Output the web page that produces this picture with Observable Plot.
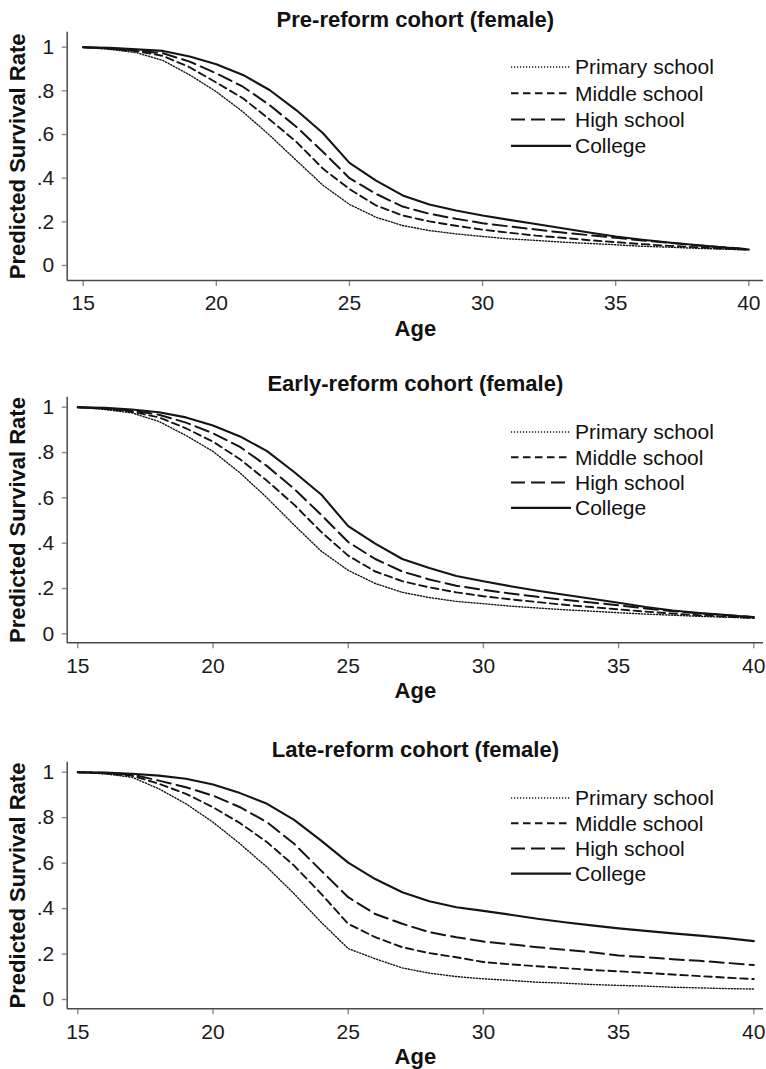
<!DOCTYPE html>
<html><head><meta charset="utf-8">
<script src="https://cdn.jsdelivr.net/npm/d3@7"></script>
<script src="https://cdn.jsdelivr.net/npm/@observablehq/plot@0.6"></script>
<style>
body{margin:0;background:#fff;}
#wrap{position:relative;width:766px;height:1069px;background:#fff;font-family:"Liberation Sans",Arial,sans-serif;}
.panel{position:absolute;left:0;}
</style></head><body><div id="wrap"></div>
<script>
// ---------- data ----------
const ages = [15,16,17,18,19,20,21,22,23,24,25,26,27,28,29,30,31,32,33,34,35,36,37,38,39,40];
const seriesNames = ["Primary school","Middle school","High school","College"];
const xTicks = [15,20,25,30,35,40];
const yTicks = [0,0.2,0.4,0.6,0.8,1];
const yTickLabels = ["0",".2",".4",".6",".8","1"];
const titles = ["Pre-reform cohort (female)","Early-reform cohort (female)","Late-reform cohort (female)"];
const yLabel = "Predicted Survival Rate";
const xLabel = "Age";

// Pre-reform cohort
const preCollege = [1,.997,.99,.983,.957,.922,.873,.804,.712,.607,.47,.389,.321,.279,.252,.229,.209,.19,.171,.151,.133,.118,.105,.094,.083,.073];
const preHigh    = [1,.995,.985,.972,.934,.88,.819,.735,.636,.521,.40,.328,.27,.237,.214,.194,.179,.165,.151,.139,.127,.115,.104,.093,.084,.075];
const preMiddle  = [1,.993,.982,.96,.908,.838,.766,.669,.567,.444,.35,.275,.229,.202,.182,.164,.15,.137,.127,.116,.107,.098,.09,.084,.078,.072];
const prePrimary = [1,.99,.975,.939,.873,.796,.704,.597,.482,.368,.28,.221,.183,.16,.145,.133,.122,.115,.107,.101,.095,.088,.084,.079,.075,.072];
// Early-reform cohort
const earlyCollege = [1,.997,.99,.978,.955,.919,.871,.806,.714,.615,.475,.398,.33,.29,.255,.232,.21,.19,.172,.155,.137,.118,.103,.092,.083,.073];
const earlyHigh    = [1,.995,.985,.967,.932,.885,.825,.74,.64,.525,.405,.33,.275,.24,.212,.194,.178,.163,.15,.138,.126,.112,.1,.09,.082,.074];
const earlyMiddle  = [1,.993,.98,.955,.907,.848,.77,.675,.57,.45,.345,.275,.232,.205,.183,.166,.152,.14,.128,.118,.108,.098,.089,.082,.076,.07];
const earlyPrimary = [1,.99,.975,.937,.875,.805,.71,.6,.48,.365,.28,.222,.183,.16,.143,.133,.122,.114,.106,.1,.093,.087,.082,.077,.073,.069];
// Late-reform cohort
const lateCollege = [1,.998,.993,.985,.971,.946,.908,.861,.79,.699,.602,.53,.472,.432,.406,.39,.373,.355,.34,.326,.313,.302,.291,.281,.27,.257];
const lateHigh    = [1,.997,.99,.963,.934,.897,.846,.78,.685,.567,.45,.376,.333,.296,.274,.255,.243,.23,.219,.208,.194,.186,.177,.17,.161,.152];
const lateMiddle  = [1,.995,.985,.949,.905,.846,.776,.692,.589,.465,.333,.274,.23,.204,.186,.165,.155,.146,.138,.13,.124,.117,.11,.103,.096,.09];
const latePrimary = [1,.993,.978,.927,.861,.78,.685,.582,.465,.34,.224,.179,.139,.116,.101,.091,.084,.076,.072,.066,.062,.059,.054,.051,.048,.046];

const panelSeries = [
  [prePrimary, preMiddle, preHigh, preCollege],
  [earlyPrimary, earlyMiddle, earlyHigh, earlyCollege],
  [latePrimary, lateMiddle, lateHigh, lateCollege]
];

// ---------- styles / layout ----------
const lineStyle = {
  "Primary school": {w:1.4, dash:"1.2,1.8"},
  "Middle school":  {w:1.9, dash:"7.5,4.5"},
  "High school":    {w:2.0, dash:"14,6"},
  "College":        {w:2.1, dash:null}
};
const FONT = "Liberation Sans, Arial, sans-serif";
const layout = [
  {top:0,   height:360, mt:31.7, mb:80,   xd:[14.399,40.552], yd:[-0.0687,1.0687], titleY:19,   legY:67, legGap:26.3},
  {top:360, height:350, mt:36.7, mb:67.7, xd:[14.608,40.359], yd:[-0.0397,1.0441], titleY:23.5, legY:72, legGap:25.3},
  {top:710, height:359, mt:51.7, mb:60.7, xd:[14.608,40.359], yd:[-0.0409,1.044],  titleY:39.5, legY:88, legGap:25.2}
];
const ML = 66.7, MR = 3;

const wrap = document.getElementById("wrap");

layout.forEach((L, p) => {
  const rows = [];
  seriesNames.forEach((s, k) => {
    panelSeries[p][k].forEach((v, i) => rows.push({age: ages[i], v, series: s}));
  });
  const lines = seriesNames.map(s => Plot.line(rows.filter(d => d.series === s), {
    x: "age", y: "v", stroke: "#141414", strokeWidth: lineStyle[s].w,
    strokeDasharray: lineStyle[s].dash || undefined, curve: "linear"
  }));
  const chart = Plot.plot({
    width: 766, height: L.height,
    marginLeft: ML, marginRight: MR, marginTop: L.mt, marginBottom: L.mb,
    style: {fontFamily: FONT, fontSize: "21px", color: "#1a1a1a", background: "#fff", overflow: "visible"},
    x: {domain: L.xd},
    y: {domain: L.yd},
    marks: [
      Plot.axisX({ticks: xTicks, tickSize: 6, tickPadding: 9, stroke: "#8a8a8a", strokeWidth: 1.4, fill: "#1a1a1a", fontSize: 21, label: null}),
      Plot.axisY({ticks: yTicks, tickFormat: d => yTickLabels[yTicks.indexOf(d)], tickSize: 5, tickPadding: 8, stroke: "#8a8a8a", strokeWidth: 1.4, fill: "#1a1a1a", fontSize: 21, label: null}),
      Plot.ruleY([L.yd[0]], {stroke: "#4a4a4a", strokeWidth: 1.5}),
      Plot.ruleX([L.xd[0]], {stroke: "#4a4a4a", strokeWidth: 1.5}),
      ...lines,
      Plot.text([titles[p]], {frameAnchor: "top", dy: L.titleY - L.mt, text: d => d, fontWeight: "bold", fontSize: 22, textAnchor: "middle", lineAnchor: "middle", fill: "#111"}),
      Plot.text([yLabel], {frameAnchor: "left", dx: 17 - ML, text: d => d, rotate: -90, fontWeight: "bold", fontSize: 22, textAnchor: "middle", lineAnchor: "middle", fill: "#111"}),
      Plot.text([xLabel], {frameAnchor: "bottom", dy: 48, text: d => d, fontWeight: "bold", fontSize: 22, textAnchor: "middle", lineAnchor: "middle", fill: "#111"})
    ]
  });
  // legend
  const svg = d3.select(chart);
  const g = svg.append("g").attr("class", "legend").attr("text-anchor", "start");
  seriesNames.forEach((s, k) => {
    const y = L.legY + k * L.legGap;
    g.append("line").attr("x1", 511).attr("x2", 571).attr("y1", y).attr("y2", y)
      .attr("stroke", "#141414").attr("stroke-width", lineStyle[s].w)
      .attr("stroke-dasharray", lineStyle[s].dash);
    g.append("text").attr("x", 575).attr("y", y).attr("dy", "0.35em")
      .attr("text-anchor", "start")
      .attr("font-size", 21).attr("font-family", FONT).attr("fill", "#111").text(s);
  });
  const div = document.createElement("div");
  div.className = "panel";
  div.style.top = L.top + "px";
  div.appendChild(chart);
  wrap.appendChild(div);
});
</script>
</body></html>
